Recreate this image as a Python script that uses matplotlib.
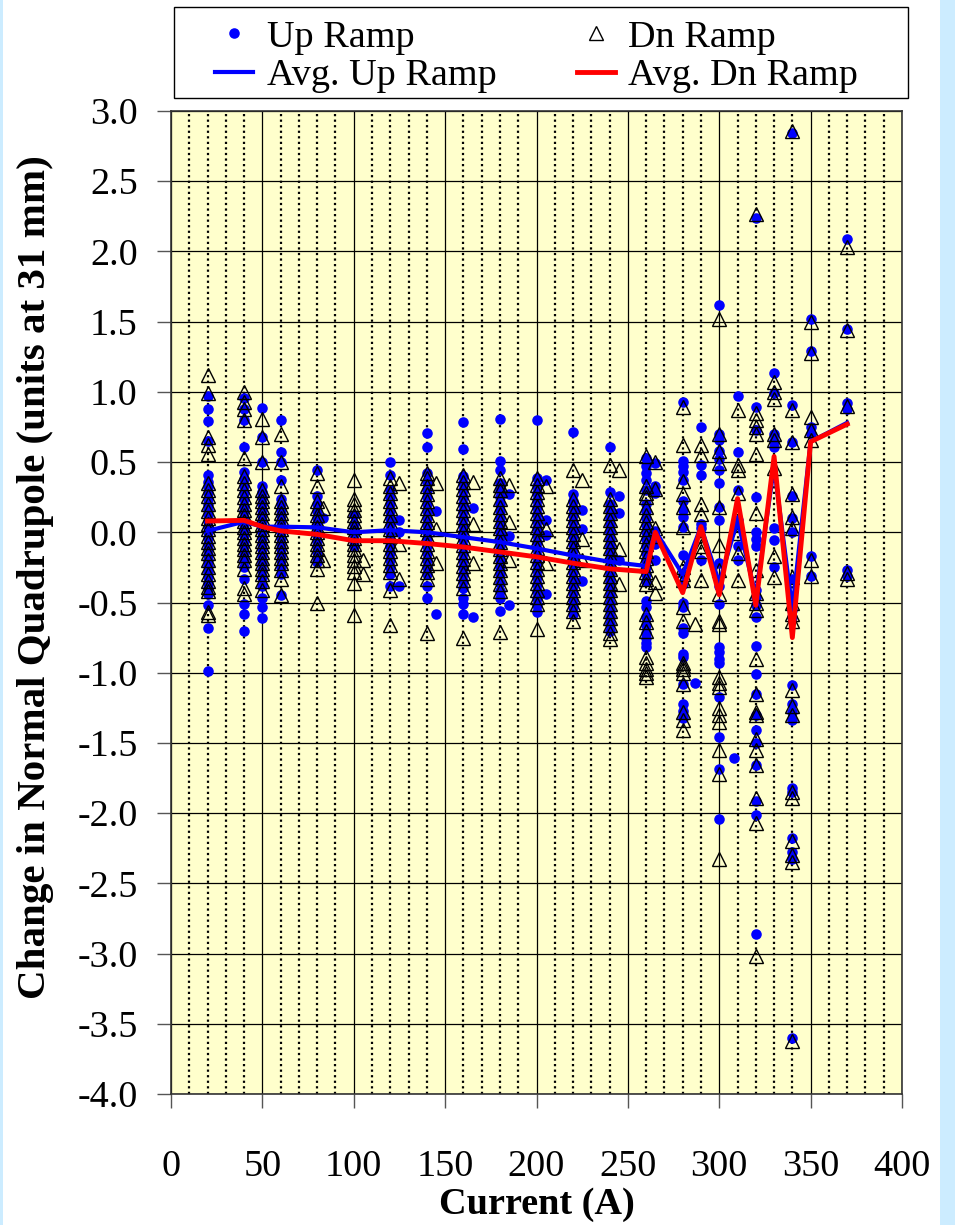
import matplotlib.pyplot as plt
from matplotlib.patches import Rectangle
from matplotlib.ticker import MultipleLocator, FuncFormatter

# readings per current (A): up ramp (dots) and down ramp (triangles)
up_20 = [0.97, 0.88, 0.79, 0.65, 0.41, 0.36, 0.32, 0.28, 0.24, 0.20, 0.16, 0.12, 0.08, 0.04, 0.0,
         -0.04, -0.08, -0.12, -0.16, -0.20, -0.24, -0.28, -0.32, -0.36, -0.40, -0.44, -0.52, -0.68, -0.99]
dn_20 = [1.12, 0.99, 0.68, 0.62, 0.56, 0.35, 0.30, 0.26, 0.20, 0.15, 0.10, 0.06, 0.02, -0.03,
         -0.07, -0.11, -0.15, -0.20, -0.25, -0.30, -0.35, -0.39, -0.42, -0.57, -0.59]
up_40 = [0.955, 0.88, 0.80, 0.61, 0.43, 0.38, 0.33, 0.28, 0.24, 0.19, 0.15, 0.10, 0.06, 0.02,
         -0.02, -0.06, -0.10, -0.15, -0.20, -0.25, -0.33, -0.51, -0.58, -0.70]
dn_40 = [1.0, 0.93, 0.88, 0.80, 0.53, 0.40, 0.35, 0.30, 0.25, 0.20, 0.16, 0.12, 0.08, 0.04, 0.0,
         -0.04, -0.08, -0.12, -0.16, -0.20, -0.26, -0.40, -0.44]
up_50 = [0.885, 0.68, 0.50, 0.33, 0.29, 0.25, 0.20, 0.16, 0.12, 0.08, 0.04, 0.0, -0.04, -0.08,
         -0.12, -0.17, -0.22, -0.27, -0.32, -0.38, -0.47, -0.53, -0.61]
dn_50 = [0.81, 0.68, 0.50, 0.30, 0.26, 0.22, 0.18, 0.14, 0.10, 0.06, 0.02, -0.02, -0.06, -0.10,
         -0.14, -0.18, -0.22, -0.26, -0.30, -0.35, -0.41]
up_60 = [0.80, 0.57, 0.50, 0.37, 0.24, 0.20, 0.16, 0.12, 0.08, 0.04, 0.0, -0.04, -0.08, -0.12,
         -0.16, -0.20, -0.25, -0.30, -0.45]
dn_60 = [0.70, 0.50, 0.33, 0.22, 0.18, 0.14, 0.10, 0.06, 0.02, -0.02, -0.06, -0.10, -0.14, -0.18,
         -0.22, -0.27, -0.33, -0.45]
up_80 = [0.44, 0.26, 0.20, 0.15, 0.10, 0.06, 0.02, -0.02, -0.06, -0.10, -0.14, -0.18, -0.21]
dn_80 = [0.42, 0.33, 0.22, 0.17, 0.12, 0.08, 0.04, 0.0, -0.04, -0.08, -0.12, -0.16, -0.20, -0.26, -0.50]
up_100 = [0.12, 0.06, 0.02, -0.02, -0.06, -0.10]
dn_100 = [0.37, 0.24, 0.20, 0.16, 0.12, 0.08, 0.04, 0.0, -0.04, -0.08, -0.12, -0.16, -0.20, -0.24,
          -0.28, -0.36, -0.59]
up_120 = [0.50, 0.405, 0.30, 0.25, 0.20, 0.15, 0.10, 0.05, 0.0, -0.05, -0.10, -0.15, -0.20, -0.25,
          -0.30, -0.38]
dn_120 = [0.385, 0.33, 0.28, 0.22, 0.17, 0.12, 0.07, 0.02, -0.03, -0.08, -0.13, -0.18, -0.23, -0.28,
          -0.41, -0.66]
up_140 = [0.705, 0.61, 0.42, 0.36, 0.30, 0.25, 0.20, 0.15, 0.10, 0.05, 0.0, -0.05, -0.10, -0.15,
          -0.20, -0.25, -0.30, -0.38, -0.47]
dn_140 = [0.42, 0.385, 0.33, 0.27, 0.22, 0.17, 0.12, 0.07, 0.02, -0.03, -0.08, -0.13, -0.18, -0.23,
          -0.28, -0.33, -0.72]
up_160 = [0.785, 0.595, 0.40, 0.35, 0.30, 0.25, 0.20, 0.15, 0.10, 0.05, 0.0, -0.05, -0.10, -0.15,
          -0.20, -0.25, -0.30, -0.35, -0.40, -0.47, -0.51, -0.58]
dn_160 = [0.405, 0.36, 0.31, 0.26, 0.21, 0.16, 0.11, 0.06, 0.01, -0.04, -0.09, -0.14, -0.19, -0.24,
          -0.29, -0.34, -0.40, -0.75]
up_180 = [0.81, 0.51, 0.44, 0.35, 0.30, 0.25, 0.20, 0.15, 0.10, 0.05, 0.0, -0.05, -0.10, -0.15,
          -0.20, -0.25, -0.30, -0.36, -0.42, -0.47, -0.56]
dn_180 = [0.385, 0.34, 0.30, 0.24, 0.18, 0.13, 0.08, 0.03, -0.02, -0.07, -0.12, -0.17, -0.22, -0.27,
          -0.32, -0.37, -0.42, -0.71]
up_200 = [0.80, 0.385, 0.33, 0.28, 0.23, 0.18, 0.13, 0.08, 0.03, -0.02, -0.07, -0.12, -0.17, -0.22,
          -0.27, -0.32, -0.37, -0.42, -0.47, -0.52, -0.57]
dn_200 = [0.385, 0.34, 0.29, 0.24, 0.19, 0.14, 0.09, 0.04, -0.01, -0.06, -0.11, -0.16, -0.21, -0.26,
          -0.31, -0.36, -0.41, -0.46, -0.51, -0.69]
up_220 = [0.715, 0.275, 0.22, 0.17, 0.12, 0.07, 0.02, -0.03, -0.08, -0.13, -0.18, -0.23, -0.28,
          -0.33, -0.38, -0.43, -0.48, -0.53, -0.58]
dn_220 = [0.44, 0.24, 0.19, 0.14, 0.09, 0.04, -0.01, -0.06, -0.11, -0.16, -0.21, -0.26, -0.31,
          -0.36, -0.41, -0.46, -0.51, -0.56, -0.63]
up_240 = [0.61, 0.29, 0.20, 0.15, 0.10, 0.05, 0.0, -0.05, -0.10, -0.15, -0.20, -0.25, -0.30, -0.35,
          -0.40, -0.45, -0.50, -0.55, -0.60, -0.65, -0.70]
dn_240 = [0.48, 0.24, 0.19, 0.14, 0.09, 0.04, -0.01, -0.06, -0.11, -0.16, -0.21, -0.26, -0.31, -0.36,
          -0.41, -0.46, -0.51, -0.56, -0.61, -0.66, -0.72, -0.76]
up_260 = [0.53, 0.47, 0.42, 0.37, 0.30, 0.20, 0.15, 0.10, 0.05, 0.0, -0.05, -0.10, -0.15, -0.20,
          -0.25, -0.30, -0.35, -0.49, -0.53, -0.60, -0.66, -0.72, -0.75, -0.79, -0.82]
dn_260 = [0.54, 0.33, 0.28, 0.25, 0.18, 0.12, 0.07, 0.02, -0.03, -0.08, -0.13, -0.18, -0.23, -0.28,
          -0.33, -0.37, -0.58, -0.64, -0.70, -0.89, -0.93, -0.97, -1.0, -1.03]
up_265 = [0.49, 0.33, 0.28, 0.01, -0.04, -0.08, -0.20]
dn_265 = [0.50, 0.31, 0.03, -0.03, -0.355, -0.43]
up_280 = [0.93, 0.51, 0.47, 0.43, 0.37, 0.22, 0.16, 0.11, 0.04, -0.165, -0.30, -0.37, -0.50, -0.53,
          -0.68, -0.72, -0.865, -0.89, -1.08, -1.22, -1.27, -1.32]
dn_280 = [0.89, 0.62, 0.365, 0.27, 0.18, 0.04, -0.25, -0.30, -0.34, -0.53, -0.63, -0.93, -0.95,
          -0.97, -1.0, -1.08, -1.28, -1.34, -1.41]
up_287 = [-1.07]
dn_287 = [-0.65]
up_290 = [0.75, 0.48, 0.405, 0.06, 0.03, -0.20]
dn_290 = [0.62, 0.55, 0.20, 0.13, -0.10, -0.13, -0.34]
up_300 = [1.62, 0.70, 0.66, 0.58, 0.52, 0.44, 0.35, 0.18, 0.085, -0.22, -0.38, -0.51, -0.82, -0.85,
          -0.90, -0.93, -1.17, -1.46, -1.685, -2.04]
dn_300 = [1.52, 0.70, 0.58, 0.49, 0.18, -0.09, -0.27, -0.44, -0.63, -0.65, -1.03, -1.07, -1.10,
          -1.25, -1.30, -1.35, -1.55, -1.72, -2.33]
up_308 = [-1.61]
up_310 = [0.97, 0.57, 0.30, 0.085, 0.06, -0.10, -0.20]
dn_310 = [0.87, 0.48, 0.44, 0.28, -0.005, -0.15, -0.34]
up_320 = [2.24, 0.89, 0.73, 0.25, 0.0, -0.05, -0.10, -0.41, -0.46, -0.52, -0.60, -0.81, -1.01,
          -1.15, -1.30, -1.41, -1.50, -1.66, -1.91, -2.01, -2.86]
dn_320 = [2.27, 0.85, 0.80, 0.75, 0.70, 0.56, 0.135, -0.27, -0.43, -0.50, -0.55, -0.90, -1.15,
          -1.28, -1.30, -1.47, -1.55, -1.66, -1.89, -2.07, -3.02]
up_330 = [1.135, 0.99, 0.70, 0.65, 0.61, 0.03, -0.055, -0.25]
dn_330 = [1.07, 1.0, 0.95, 0.70, 0.66, 0.455, -0.17, -0.32]
up_340 = [2.84, 0.905, 0.645, 0.26, 0.10, 0.0, -0.33, -0.49, -0.55, -0.60, -1.09, -1.22, -1.28,
          -1.34, -1.82, -1.85, -2.18, -2.28, -2.33, -3.60]
dn_340 = [2.86, 0.87, 0.645, 0.27, 0.11, 0.03, -0.32, -0.50, -0.58, -0.63, -1.12, -1.24, -1.30,
          -1.85, -1.89, -2.20, -2.30, -2.35, -3.62]
up_350 = [1.52, 1.29, 0.75, 0.70, -0.17, -0.31]
dn_350 = [1.50, 1.28, 0.82, 0.73, 0.655, -0.20, -0.31]
up_370 = [2.09, 1.45, 0.92, 0.88, -0.27, -0.31]
dn_370 = [2.03, 1.44, 0.90, -0.29, -0.33]

# a few readings taken just off the main current steps
up_83, dn_83 = [0.10], [0.17, -0.20]
dn_105 = [-0.20, -0.30]
up_125, dn_125 = [0.09, 0.0, -0.38], [0.35, -0.08, -0.33]
up_145, dn_145 = [0.15, -0.58], [0.35, 0.02, -0.22]
up_165, dn_165 = [0.17, -0.60], [0.36, 0.06, -0.22]
up_185, dn_185 = [0.27, -0.03, -0.52], [0.34, 0.07, -0.20]
up_205, dn_205 = [0.37, 0.09, -0.02, -0.44], [0.33, 0.02, -0.22]
up_225, dn_225 = [0.16, 0.025, -0.35], [0.37, -0.05, -0.20]
up_245, dn_245 = [0.26, 0.14, -0.20], [0.44, -0.12, -0.37]

# averages
avg_current = [20, 40, 50, 60, 80, 100, 120, 140, 160, 180, 200, 220, 240, 260, 265,
               280, 290, 300, 310, 320, 330, 340, 350, 370]
avg_up = [0.01, 0.075, 0.04, 0.04, 0.035, 0.0, 0.015, 0.0, -0.035, -0.07, -0.115, -0.165, -0.21,
          -0.24, 0.01, -0.30, 0.04, -0.36, 0.085, -0.45, 0.47, -0.55, 0.645, 0.78]
avg_dn = [0.08, 0.085, 0.04, 0.01, -0.015, -0.06, -0.06, -0.08, -0.105, -0.14, -0.175, -0.22, -0.26,
          -0.28, 0.0, -0.43, 0.04, -0.445, 0.24, -0.52, 0.54, -0.75, 0.645, 0.77]

up_cols = [(20, up_20), (40, up_40), (50, up_50), (60, up_60), (80, up_80), (83, up_83),
           (100, up_100), (120, up_120), (125, up_125), (140, up_140), (145, up_145),
           (160, up_160), (165, up_165), (180, up_180), (185, up_185), (200, up_200),
           (205, up_205), (220, up_220), (225, up_225), (240, up_240), (245, up_245),
           (260, up_260), (265, up_265), (280, up_280), (287, up_287), (290, up_290),
           (300, up_300), (308, up_308), (310, up_310), (320, up_320), (330, up_330),
           (340, up_340), (350, up_350), (370, up_370)]
dn_cols = [(20, dn_20), (40, dn_40), (50, dn_50), (60, dn_60), (80, dn_80), (83, dn_83),
           (100, dn_100), (105, dn_105), (120, dn_120), (125, dn_125), (140, dn_140),
           (145, dn_145), (160, dn_160), (165, dn_165), (180, dn_180), (185, dn_185),
           (200, dn_200), (205, dn_205), (220, dn_220), (225, dn_225), (240, dn_240),
           (245, dn_245), (260, dn_260), (265, dn_265), (280, dn_280), (287, dn_287),
           (290, dn_290), (300, dn_300), (310, dn_310), (320, dn_320), (330, dn_330),
           (340, dn_340), (350, dn_350), (370, dn_370)]

up_x = [c for c, vals in up_cols for v in vals]
up_y = [v for c, vals in up_cols for v in vals]
dn_x = [c for c, vals in dn_cols for v in vals]
dn_y = [v for c, vals in dn_cols for v in vals]

serif = 'Liberation Serif'
fs = 27.5
W, H = 955, 1225

fig = plt.figure(figsize=(W / 100, H / 100), dpi=100)
fig.patch.set_facecolor('#CCECFF')
fig.add_artist(Rectangle((3 / W, 0), 937 / W, 1, transform=fig.transFigure,
                         facecolor='white', edgecolor='none', zorder=0))

ax = fig.add_axes([171 / W, 1 - 1094 / H, 731 / W, 983 / H])
ax.set_facecolor('#FFFFCC')

h_up, = ax.plot(up_x, up_y, 'o', ms=7.6, color='#0000FF', mec='none', label='Up Ramp', zorder=3)
h_dn, = ax.plot(dn_x, dn_y, '^', ms=9.4, mfc='none', mec='black', mew=1.0, label='Dn Ramp', zorder=4)
h_aup, = ax.plot(avg_current, avg_up, '-', color='#0000FF', lw=3.0, label='Avg. Up Ramp', zorder=5)
h_adn, = ax.plot(avg_current, avg_dn, '-', color='#FF0000', lw=3.5, label='Avg. Dn Ramp', zorder=6)

ax.set_xlim(0, 400)
ax.set_ylim(-4.0, 3.0)
ax.xaxis.set_major_locator(MultipleLocator(50))
ax.xaxis.set_minor_locator(MultipleLocator(10))
ax.yaxis.set_major_locator(MultipleLocator(0.5))
ax.yaxis.set_major_formatter(FuncFormatter(lambda v, p: f'{v:.1f}'))

ax.set_axisbelow(True)
ax.grid(True, which='major', color='black', lw=0.9)
ax.xaxis.grid(True, which='minor', color='black', lw=1.6, linestyle=(0, (1, 1.5)))

for s in ax.spines.values():
    s.set_color('#333333')
    s.set_linewidth(1.2)

ax.tick_params(axis='both', which='major', direction='out', length=10, width=1, color='#555555',
               labelsize=fs)
ax.tick_params(axis='y', pad=14)
ax.tick_params(axis='x', pad=30)
ax.tick_params(which='minor', length=0)
for lbl in ax.get_xticklabels() + ax.get_yticklabels():
    lbl.set_family(serif)

ax.set_xlabel('Current (A)', fontsize=fs, fontweight='bold', family=serif, labelpad=2)
ax.set_ylabel('Change in Normal Quadrupole (units at 31 mm)', fontsize=29.5, fontweight='bold',
              family=serif)
ax.yaxis.set_label_coords(-0.16, 0.526)

# legend box drawn separately so the side padding can differ from the top/bottom padding
fig.add_artist(Rectangle((174 / W, 1 - 98 / H), 734 / W, 91 / H, transform=fig.transFigure,
                         facecolor='white', edgecolor='black', lw=1.0, zorder=1))
fig.legend([h_up, h_aup, h_dn, h_adn], ['Up Ramp', 'Avg. Up Ramp', 'Dn Ramp', 'Avg. Dn Ramp'],
           loc='upper left', bbox_to_anchor=(215 / W, 1 - 20 / H), ncol=2,
           prop={'family': serif, 'size': fs}, frameon=False, borderaxespad=0, borderpad=0,
           labelspacing=0.1, handlelength=1.0, handletextpad=0.35, columnspacing=2.1)

fig.savefig('out.png', dpi=100, facecolor=fig.get_facecolor())
